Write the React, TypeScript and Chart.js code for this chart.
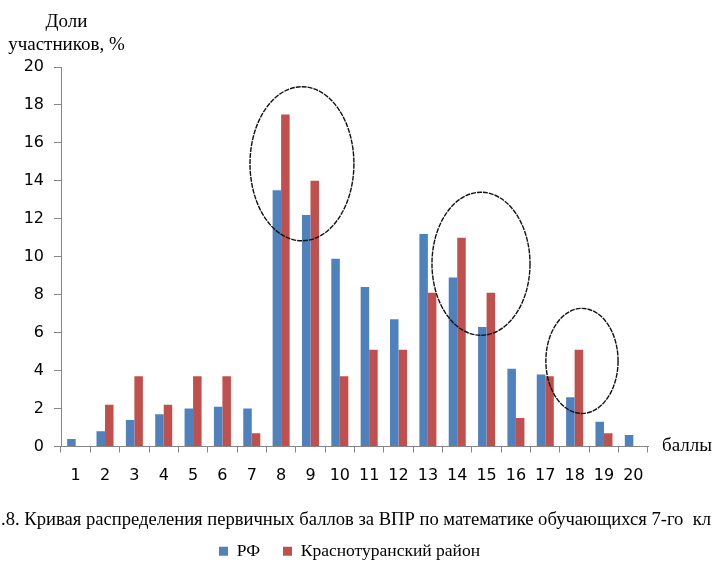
import React, { useEffect, useRef } from "react";
import { Chart, registerables } from "chart.js";

Chart.register(...registerables);

const categories = ["1","2","3","4","5","6","7","8","9","10","11","12","13","14","15","16","17","18","19","20"];
const rfValues = [0.4, 0.8, 1.4, 1.7, 2.0, 2.1, 2.0, 13.5, 12.2, 9.9, 8.4, 6.7, 11.2, 8.9, 6.3, 4.1, 3.8, 2.6, 1.3, 0.6];
const districtValues = [0, 2.2, 3.7, 2.2, 3.7, 3.7, 0.7, 17.5, 14.0, 3.7, 5.1, 5.1, 8.1, 11.0, 8.1, 1.5, 3.7, 5.1, 0.7, 0];
const seriesNames = ["РФ", "Краснотуранский район"];
const yTicks = [0, 2, 4, 6, 8, 10, 12, 14, 16, 18, 20];
// highlight ellipses: [center category index, center value, radius in categories, radius in value units]
const ellipses = [
  [7.71, 14.9, 1.77, 4.06],
  [13.81, 9.63, 1.67, 3.77],
  [17.25, 4.51, 1.23, 2.77],
];
const yAxisTitle = ["Доли", "участников, %"];
const xAxisTitle = "баллы";
const caption = ".8. Кривая распределения первичных баллов за ВПР по математике обучающихся 7-го  кл";

const BLUE = "#4F81BD";
const RED = "#C0504D";
const AXIS = "#868686";

const ellipsePlugin = {
  id: "ellipses",
  afterDatasetsDraw(chart: any) {
    const { ctx } = chart;
    const xs = chart.scales.x;
    const ys = chart.scales.y;
    ctx.save();
    ctx.strokeStyle = "#111";
    ctx.lineWidth = 1.4;
    ctx.setLineDash([5, 1]);
    for (const [cx, cy, rx, ry] of ellipses) {
      const px = xs.getPixelForValue(cx);
      const py = ys.getPixelForValue(cy);
      const prx = Math.abs(xs.getPixelForValue(cx + rx) - px);
      const pry = Math.abs(ys.getPixelForValue(cy + ry) - py);
      ctx.beginPath();
      ctx.ellipse(px, py, prx, pry, 0, 0, Math.PI * 2);
      ctx.stroke();
    }
    ctx.restore();
  },
};

export default function App() {
  const ref = useRef<HTMLCanvasElement | null>(null);
  useEffect(() => {
    if (!ref.current) return;
    const chart = new Chart(ref.current, {
      type: "bar",
      data: {
        labels: categories,
        datasets: [
          { label: seriesNames[0], data: rfValues, backgroundColor: BLUE, borderWidth: 0 },
          { label: seriesNames[1], data: districtValues, backgroundColor: RED, borderWidth: 0 },
        ],
      },
      options: {
        responsive: false,
        animation: false,
        layout: { padding: { top: 67, right: 14, left: 0, bottom: 0 } },
        datasets: { bar: { categoryPercentage: 0.58, barPercentage: 1 } },
        plugins: {
          tooltip: { enabled: false },
          legend: {
            position: "bottom",
            labels: {
              boxWidth: 9,
              boxHeight: 9,
              padding: 23,
              color: "#000",
              font: { family: "'Liberation Serif', serif", size: 17.5 },
            },
          },
        },
        scales: {
          x: {
            grid: { display: true, drawOnChartArea: false, drawTicks: true, tickLength: 6, color: AXIS, offset: true },
            border: { display: true, color: AXIS, width: 1 },
            ticks: { color: "#000", padding: 14, font: { family: "'DejaVu Sans', sans-serif", size: 16 }, maxRotation: 0, autoSkip: false },
            afterFit: (s: any) => { s.height = 73; },
          },
          y: {
            min: 0,
            max: 20,
            afterBuildTicks: (s: any) => { s.ticks = yTicks.map((v) => ({ value: v })); },
            grid: { display: true, drawOnChartArea: false, drawTicks: true, tickLength: 7, color: AXIS },
            border: { display: true, color: AXIS, width: 1 },
            ticks: { color: "#000", padding: 10, font: { family: "'DejaVu Sans', sans-serif", size: 16 } },
            afterFit: (s: any) => { s.width = 61; },
          },
          // empty spacer on the right, leaves room for the "баллы" label
          spacer: {
            type: "linear",
            position: "right",
            display: true,
            grid: { display: false },
            border: { display: false },
            ticks: { display: false },
            afterFit: (s: any) => { s.width = 51; },
          },
        },
      },
      plugins: [ellipsePlugin],
    });
    return () => chart.destroy();
  }, []);

  const serif = "'Liberation Serif', 'Times New Roman', serif";
  return (
    <div style={{ position: "fixed", left: 0, top: 0, width: 713, height: 562, overflow: "hidden", background: "#fff" }}>
      <canvas ref={ref} width={713} height={570} style={{ position: "absolute", left: 0, top: 0, display: "block" }} />
      <div style={{ position: "absolute", left: 0, top: 9, width: 133, textAlign: "center", fontFamily: serif, fontSize: 19, lineHeight: "23px", color: "#000" }}>
        {yAxisTitle[0]}<br />{yAxisTitle[1]}
      </div>
      <div style={{ position: "absolute", left: 662, top: 433, fontFamily: serif, fontSize: 19, lineHeight: "23px", color: "#000", whiteSpace: "nowrap" }}>
        {xAxisTitle}
      </div>
      <div style={{ position: "absolute", left: 1, top: 507, fontFamily: serif, fontSize: 18.6, lineHeight: "23px", color: "#000", whiteSpace: "pre" }}>
        {caption}
      </div>
    </div>
  );
}
